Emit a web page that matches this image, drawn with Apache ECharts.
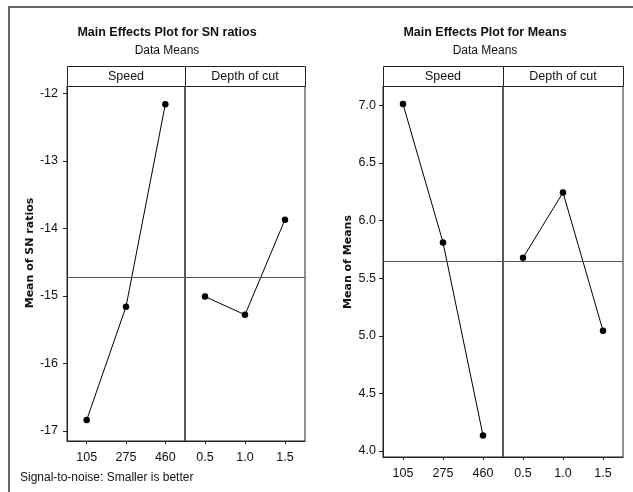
<!DOCTYPE html>
<html>
<head>
<meta charset="utf-8">
<script src="https://cdn.jsdelivr.net/npm/echarts@6/dist/echarts.min.js"></script>
<style>html,body{margin:0;padding:0;background:#fff;}#c{width:633px;height:492px;}</style>
</head>
<body>
<div id="c"></div>
<script>
const speedLevels = ['105', '275', '460'];
const depthLevels = ['0.5', '1.0', '1.5'];
const snSpeed = [-16.84, -15.16, -12.16];
const snDepth = [-15.01, -15.28, -13.87];
const meanSpeed = [7.01, 5.81, 4.135];
const meanDepth = [5.676, 6.243, 5.043];
const snTicks = [-17, -16, -15, -14, -13, -12];
const meanTicks = [4.0, 4.5, 5.0, 5.5, 6.0, 6.5, 7.0];
const snRange = [-17.15, -11.89];
const meanRange = [3.948, 7.167];

const avg = a => a.reduce((s, v) => s + v, 0) / a.length;
const snMean = avg(snSpeed.concat(snDepth));
const meanMean = avg(meanSpeed.concat(meanDepth));

const FF = '"Liberation Sans", Arial, sans-serif';
const TXT = '#111';

const chart = echarts.init(document.getElementById('c'), null, {renderer: 'canvas'});

const grids = [
  {left: 67, top: 86, width: 118, height: 355},
  {left: 185, top: 86, width: 120, height: 355},
  {left: 383, top: 86, width: 120, height: 371},
  {left: 503, top: 86, width: 120, height: 371}
].map(g => Object.assign({show: true, borderColor: '#222', borderWidth: 1, backgroundColor: 'transparent', containLabel: false}, g));

function xAx(idx, cats) {
  return {
    type: 'category', gridIndex: idx, data: cats, boundaryGap: true,
    axisLine: {show: true, lineStyle: {color: '#222', width: 1}},
    axisTick: {show: true, alignWithLabel: true, length: 3, lineStyle: {color: '#222'}},
    axisLabel: {color: TXT, fontSize: 12.5, fontFamily: FF, margin: 10},
    splitLine: {show: false}
  };
}
function yAx(idx, range, ticks, show, dec, margin) {
  return {
    type: 'value', gridIndex: idx, min: range[0], max: range[1], scale: true,
    show: show,
    axisLine: {show: show, lineStyle: {color: '#222'}},
    axisTick: {show: show, length: 4, lineStyle: {color: '#222'}, customValues: ticks},
    axisLabel: {show: show, color: TXT, fontSize: 12.5, fontFamily: FF, margin: margin, customValues: ticks,
      formatter: v => dec ? Number(v).toFixed(dec) : String(Math.round(v))},
    splitLine: {show: false}
  };
}
function ser(idx, data, refVal) {
  return {
    type: 'line', xAxisIndex: idx, yAxisIndex: idx, data: data,
    symbol: 'circle', symbolSize: 6.5, animation: false,
    itemStyle: {color: '#000'},
    lineStyle: {color: '#000', width: 1},
    markLine: {
      silent: true, symbol: 'none', animation: false,
      label: {show: false},
      lineStyle: {color: '#555', type: 'solid', width: 1},
      data: [{yAxis: refVal}]
    }
  };
}

const strips = [
  [67, 118, 'Speed'], [185, 120, 'Depth of cut'],
  [383, 120, 'Speed'], [503, 120, 'Depth of cut']
];
const graphics = [];
strips.forEach(s => {
  graphics.push({type: 'rect', shape: {x: s[0] + 0.5, y: 66.5, width: s[1], height: 20},
    style: {fill: '#fff', stroke: '#222', lineWidth: 1}, silent: true});
  graphics.push({type: 'text', style: {x: s[0] + s[1] / 2, y: 76.5, text: s[2], align: 'center', verticalAlign: 'middle',
    font: '12.5px ' + FF, fill: TXT}, silent: true});
});
graphics.push({type: 'line', shape: {x1: 8, y1: 7, x2: 633, y2: 7}, style: {stroke: '#666', lineWidth: 2}, silent: true});
graphics.push({type: 'line', shape: {x1: 9, y1: 6, x2: 9, y2: 492}, style: {stroke: '#666', lineWidth: 2}, silent: true});
graphics.push({type: 'text', x: 30, y: 253, rotation: Math.PI / 2,
  style: {x: 0, y: 0, text: 'Mean of SN ratios', align: 'center', verticalAlign: 'middle', font: 'bold 11px "DejaVu Sans", sans-serif', fill: TXT}, silent: true});
graphics.push({type: 'text', x: 348, y: 262, rotation: Math.PI / 2,
  style: {x: 0, y: 0, text: 'Mean of Means', align: 'center', verticalAlign: 'middle', font: 'bold 11px "DejaVu Sans", sans-serif', fill: TXT}, silent: true});
graphics.push({type: 'text', style: {x: 20, y: 478, text: 'Signal-to-noise: Smaller is better', align: 'left', verticalAlign: 'middle',
  font: '12px ' + FF, fill: TXT}, silent: true});

chart.setOption({
  animation: false,
  backgroundColor: '#fff',
  title: [
    {text: 'Main Effects Plot for SN ratios', left: 167, top: 26, textAlign: 'center', padding: 0,
      textStyle: {fontSize: 12.5, fontWeight: 'bold', fontFamily: FF, color: TXT}},
    {text: 'Data Means', left: 167, top: 45, textAlign: 'center', padding: 0,
      textStyle: {fontSize: 12, fontWeight: 'normal', fontFamily: FF, color: TXT}},
    {text: 'Main Effects Plot for Means', left: 485, top: 26, textAlign: 'center', padding: 0,
      textStyle: {fontSize: 12.5, fontWeight: 'bold', fontFamily: FF, color: TXT}},
    {text: 'Data Means', left: 485, top: 45, textAlign: 'center', padding: 0,
      textStyle: {fontSize: 12, fontWeight: 'normal', fontFamily: FF, color: TXT}}
  ],
  grid: grids,
  xAxis: [xAx(0, speedLevels), xAx(1, depthLevels), xAx(2, speedLevels), xAx(3, depthLevels)],
  yAxis: [
    yAx(0, snRange, snTicks, true, 0, 9),
    yAx(1, snRange, snTicks, false, 0, 9),
    yAx(2, meanRange, meanTicks, true, 1, 7),
    yAx(3, meanRange, meanTicks, false, 1, 7)
  ],
  series: [
    ser(0, snSpeed, snMean), ser(1, snDepth, snMean),
    ser(2, meanSpeed, meanMean), ser(3, meanDepth, meanMean)
  ],
  graphic: graphics
});
</script>
</body>
</html>
